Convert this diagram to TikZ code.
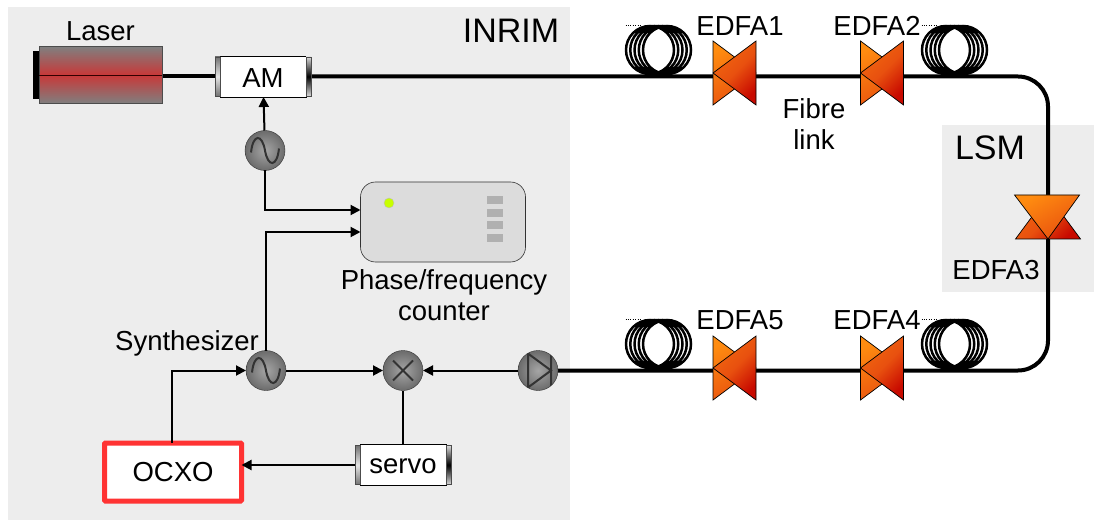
\documentclass[tikz,border=0pt]{standalone}
\usepackage{xcolor}
\usepackage{fontspec}
\setmainfont{Liberation Sans}
\definecolor{cPanel}{HTML}{EDEDED}
\definecolor{cBox}{HTML}{DCDCDC}
\definecolor{cSlot}{HTML}{B0B0B0}
\definecolor{cLed}{HTML}{C8FF00}
\definecolor{cOcxo}{HTML}{FF3333}
\definecolor{cOrange}{HTML}{FF8C10}
\definecolor{cMid}{HTML}{E8500F}
\definecolor{cRed}{HTML}{C80A00}
\definecolor{cLaser}{HTML}{C83838}
\usetikzlibrary{positioning,arrows.meta,backgrounds}
\tikzset{
  label-text/.style={font=\fontsize{27.5}{31}\selectfont,align=center,inner sep=0pt,outer sep=0pt},
  label-big/.style={font=\fontsize{34}{38}\selectfont,inner sep=0pt,outer sep=0pt},
  node-panel/.style={fill=cPanel,inner sep=0pt,outer sep=0pt},
  node-laser/.style={draw=black!70,semithick,top color=black!50,bottom color=black!50,
    middle color=cLaser,minimum width=123pt,minimum height=57pt,inner sep=0pt,outer sep=0pt},
  node-back/.style={fill=black,minimum width=6pt,minimum height=48pt,inner sep=0pt,outer sep=0pt},
  node-mod/.style={draw=black,semithick,fill=white,minimum width=86pt,minimum height=41pt,
    label-text,outer sep=0pt},
  node-capl/.style={draw=black!70,top color=black!55,bottom color=black!55,middle color=black!10,
    minimum width=5pt,minimum height=39pt,inner sep=0pt,outer sep=0pt},
  node-capr/.style={draw=black!70,top color=black!15,bottom color=black!15,middle color=black,
    minimum width=5pt,minimum height=39pt,inner sep=0pt,outer sep=0pt},
  node-round/.style={draw=black!80,circle,minimum size=40pt,inner sep=0pt,outer sep=0pt,
    inner color=black!35,outer color=black!58},
  node-osc/.style={node-round,path picture={
    \draw[line width=2pt,shift={(path picture bounding box.center)}]
      (-14,2) .. controls (-12,-17) and (-3,-17) .. (0,0)
      .. controls (3,17) and (12,17) .. (14,-2);}},
  node-mix/.style={node-round,path picture={
    \draw[line width=2pt,shift={(path picture bounding box.center)}]
      (-10,-10) -- (10,10) (-10,10) -- (10,-10);}},
  node-diode/.style={node-round,path picture={
    \draw[line width=2pt,shift={(path picture bounding box.center)}]
      (-10,-17) -- (13,0) -- (-10,17) -- cycle (13,-17) -- (13,17);}},
  node-counter/.style={draw=black!80,semithick,fill=cBox,rounded corners=15pt,
    minimum width=165pt,minimum height=80pt,inner sep=0pt,outer sep=0pt},
  node-slot/.style={fill=cSlot,minimum width=16pt,minimum height=8pt,inner sep=0pt,outer sep=0pt},
  node-led/.style={circle,draw=black!25,fill=cLed,minimum size=10pt,inner sep=0pt,outer sep=0pt},
  node-ocxo/.style={draw=cOcxo,line width=5pt,rounded corners=1pt,fill=white,minimum width=137pt,
    minimum height=58pt,label-text,outer sep=0pt},
  arrow/.style={-{Stealth[length=10pt,width=10pt,inset=0pt]},line width=2pt,draw=black},
  arrow-plain/.style={line width=2pt,draw=black},
  fibre/.style={line width=4pt,draw=black},
  tri-back/.style={draw=black,line width=.7pt,left color=cOrange,right color=cMid,shading angle=30},
  tri-front/.style={draw=black,line width=.7pt,left color=F06010,right color=cRed,
    middle color=cMid,shading angle=45},
  pics/edfa/.style={code={
    \coordinate (-c) at (0,0);
    \path[tri-back] (-21.5,-32) -- (21.5,0) -- (-21.5,32) -- cycle;
    \path[tri-front] (21.5,-32) -- (-21.5,0) -- (21.5,32) -- cycle;}},
  pics/edfa-up/.style={code={
    \coordinate (-c) at (0,0);
    \path[tri-front] (-32.5,22) -- (0,-22) -- (32.5,22) -- cycle;
    \path[tri-back] (-33.5,-22) -- (0,22) -- (31.5,-22) -- cycle;}},
  pics/spool/.style={code={
    \draw[line width=2.5pt] (-8.5,0) circle[radius=24] (-4.25,0) circle[radius=24]
      (0,0) circle[radius=24] (4.25,0) circle[radius=24] (8.5,0) circle[radius=24];
    \draw[thin,dotted] (-33,-25) -- (-18,-25) (18,26) -- (33,26);}},
}
\colorlet{F06010}{cOrange!40!cMid}
\begin{document}
\begin{tikzpicture}[x=1pt,y=-1pt]
  \useasboundingbox (0,0) rectangle (1094,521);
  % left part
  \node[node-laser] (laser) at (100.5,75) {};
  \node[node-back,left=0pt of laser] (back) {};
  \node[label-text,above=6pt of laser] (lLaser) {Laser};
  \node[node-mod,right=58pt of laser,yshift=-1.5pt,text height=22.3pt] (am) {AM};
  \node[node-capl,left=0pt of am] (amL) {};
  \node[node-capr,right=0pt of am] (amR) {};
  \node[node-osc,below=33.5pt of am,xshift=2pt] (osc) {};
  \node[node-counter] (counter) at (443,222) {};
  \node[node-led] (led) at (389,203) {};
  \node[node-slot] (slot1) at (495,200.5) {};
  \node[node-slot,below=4.5pt of slot1] (slot2) {};
  \node[node-slot,below=4.5pt of slot2] (slot3) {};
  \node[node-slot,below=4.5pt of slot3] (slot4) {};
  \node[label-text,below=8pt of counter,xshift=1pt] (lCounter) {Phase/frequency\\counter};
  \node[node-osc] (synth) at (266,370.5) {};
  \node[label-text] (lSynth) at (187,343) {Synthesizer};
  \node[node-mix,right=97pt of synth] (mixer) {};
  \node[node-diode,right=95pt of mixer] (pd) {};
  \node[node-mod,below=54pt of mixer,text height=17.4pt] (servo) {servo};
  \node[node-capl,left=0pt of servo] (servoL) {};
  \node[node-capr,right=0pt of servo] (servoR) {};
  \node[node-ocxo,left=113.5pt of servoL,yshift=-7pt] (ocxo) {OCXO};
  \node[label-big] (lInrim) at (511,31) {INRIM};
  % fibre link
  \pic (spool1) at (658.5,50) {spool};
  \pic (edfa1) at (734.5,73) {edfa};
  \pic (edfa2) at (882,73) {edfa};
  \pic (spool2) at (954.5,50) {spool};
  \pic (edfa3) at (1048,217) {edfa-up};
  \pic (spool3) at (658.5,344) {spool};
  \pic (edfa5) at (734.5,368) {edfa};
  \pic (edfa4) at (882,368) {edfa};
  \pic (spool4) at (954.5,344) {spool};
  \node[label-text] (lEdfa1) at (740,26) {EDFA1};
  \node[label-text] (lEdfa2) at (877,26) {EDFA2};
  \node[label-text] (lEdfa3) at (996,270) {EDFA3};
  \node[label-text] (lEdfa4) at (877,320) {EDFA4};
  \node[label-text] (lEdfa5) at (740,320) {EDFA5};
  \node[label-text] (lFibre) at (814,124.5) {Fibre\\link};
  \node[label-big] (lLsm) at (990,148) {LSM};
  \draw[arrow] (osc) -- (am);
  \draw[arrow] (osc) |- ([yshift=12pt]counter.west);
  \draw[arrow] (synth) |- ([yshift=-10pt]counter.west);
  \draw[arrow] (ocxo.north -| 172,0) |- (synth.west);
  \draw[arrow] (synth) -- (mixer);
  \draw[arrow] (pd) -- (mixer);
  \draw[arrow-plain] (mixer) -- (servo);
  \draw[arrow] (servoL.west) -- (ocxo.east |- servoL.west);
  \begin{scope}[on background layer]
    \node[node-panel,minimum width=562pt,minimum height=513pt] (inrim) at (289,263.5) {};
    \node[node-panel,minimum width=152pt,minimum height=167pt] (lsm) at (1018,208.5) {};
    \draw[fibre] (laser.east |- am.west) -- (amL.west);
    \draw[fibre,rounded corners=30pt] (amR.east) -| (edfa3-c) |- (pd.east);
  \end{scope}
  \draw[black!80!red,semithick] (laser.west) -- (laser.east);
\end{tikzpicture}
\end{document}
